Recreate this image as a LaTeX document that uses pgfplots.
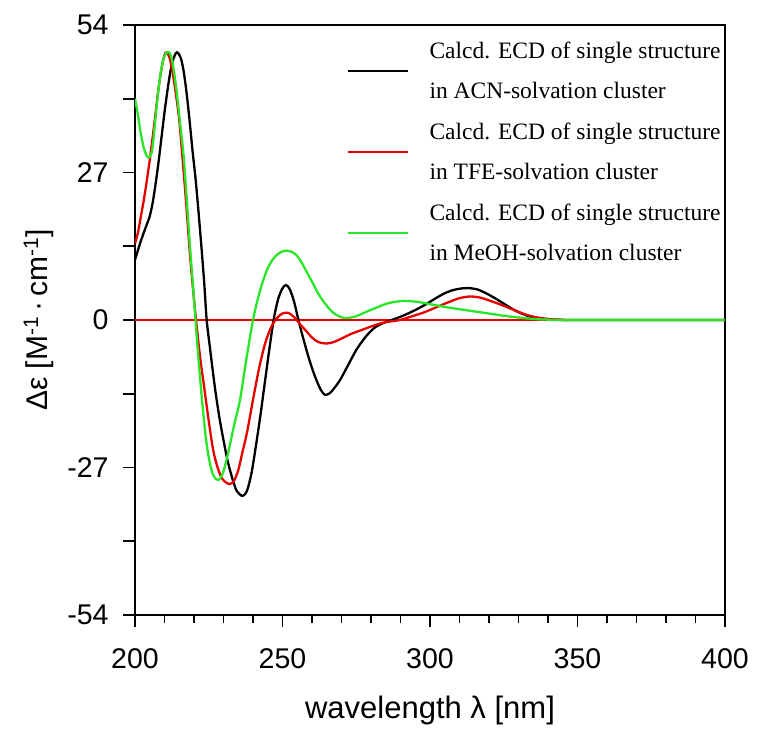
\documentclass[border=0pt]{standalone}
\usepackage{pgfplots}
\pgfplotsset{compat=1.18}
\usepackage{fontspec}
\setmainfont{Liberation Sans}
\newfontfamily\seriffam{Liberation Serif}
\definecolor{cgreen}{RGB}{40,230,40}
\definecolor{cred}{RGB}{230,0,0}
\newcommand\legfont{\fontsize{23.5}{40.5}\selectfont\seriffam}
\begin{document}
\begin{tikzpicture}
\begin{axis}[
  at={(0,0)}, anchor=south west,
  width=590pt, height=590pt, scale only axis,
  xmin=200, xmax=400, ymin=-54, ymax=54,
  axis line style={line width=1.8pt},
  tick style={line width=1.6pt, black},
  tick align=outside,
  xtick pos=bottom, ytick pos=left,
  xtick={200,250,300,350,400},
  xticklabels={200,250,300,350,400},
  minor x tick num=4,
  major tick length=12pt, minor tick length=8pt,
  ytick={-54,-27,0,27,54},
  yticklabels={-54,-27,0,27,54},
  extra y ticks={-40.5,-13.5,13.5,40.5},
  extra y tick labels={},
  extra y tick style={tick style={line width=1.6pt, black}},
  ticklabel style={font=\fontsize{28.5}{32}\selectfont},
  xticklabel style={yshift=-18pt},
  yticklabel style={xshift=-11pt},
  xlabel={wavelength λ [nm]},
  ylabel={Δε [M\textsuperscript{-1}\,·\,cm\textsuperscript{-1}]},
  every axis x label/.style={at={(axis description cs:0.5,-0.175)}, anchor=base, font=\fontsize{31}{35}\selectfont},
  every axis y label/.style={at={(axis description cs:-0.149,0.5)}, rotate=90, anchor=base, font=\fontsize{30}{34}\selectfont},
  legend cell align=left,
  legend style={at={(rel axis cs:0.359,0.972)}, anchor=north west, draw=none, fill=none,
    font=\legfont, inner sep=0pt, row sep=22.5pt, column sep=0pt,
    nodes={align=left, inner xsep=0pt, inner ysep=0pt},
    /tikz/every odd column/.append style={column sep=20pt}},
  legend image code/.code={\draw[#1, line width=2.5pt] (0pt,0pt) -- (60pt,0pt);},
  clip=true,
]
\addplot[cred, line width=1.3pt, forget plot] coordinates {(200,0)(400,0)};
\addplot[black, line width=2.3pt, smooth] coordinates {
(200,11)(202,14.5)(204,17.5)(205,19)(206,21.5)(207,25)(208,29)(209,33.5)(210,38)(211,42)(212,45.5)(213,47.8)(214.2,49)(215.5,48)(216.5,45.5)(217.5,41.5)(218.5,36.5)(219.5,31)(220.5,26)(221.5,20)(222.5,13.5)(223.5,6.5)(224.3,0)(225.5,-5.5)(227,-12)(228.5,-17.5)(230,-22)(231.5,-26)(233,-29)(234.5,-31.3)(236.5,-32.2)(238,-31.2)(239.5,-28)(241,-23)(242.5,-17.5)(244,-11.5)(245.5,-5.5)(247,0)(248.5,3.8)(250,5.8)(251.2,6.4)(252.5,5.6)(254,3.2)(255.4,0)(257,-3.3)(258.5,-6.2)(260,-8.8)(261.5,-11)(263,-12.8)(264.4,-13.7)(266,-13.4)(267.5,-12.5)(269.5,-11)(272,-8.5)(275,-5.5)(278,-3.2)(281,-1.5)(284,-0.6)(287,0)(290,0.6)(293,1.3)(296,2.1)(299,3)(302,4)(305,4.9)(308,5.5)(311,5.8)(313,5.85)(316,5.6)(319,4.9)(322,4)(325,3)(328,2)(331,1.2)(334,0.6)(337,0.3)(340,0.12)(344,0.03)(350,0)(400,0)};
\addlegendentry{Calcd. ECD of single structure\\in ACN-solvation cluster}
\addplot[cred, line width=2.3pt, smooth] coordinates {
(200,14)(201,16)(202,19)(203,22)(204,25.5)(205,29.3)(206,33.5)(207,38)(208,42.5)(209,46)(210,48.5)(210.8,49)(211.7,48)(212.7,45.5)(213.7,42)(215,36.6)(216.2,29)(217.4,21)(218.6,12.2)(219.7,5.5)(220.7,0)(222,-6.5)(223.5,-12.5)(225,-18.5)(226.5,-23.8)(228,-27)(229.5,-29)(231,-29.8)(232.2,-30)(233.5,-29.5)(235,-27.5)(236.5,-24)(238,-20.5)(240,-14.6)(242,-9)(244,-4.5)(246,-1.5)(248,0.3)(250,1.2)(252,1.3)(254,0.5)(256,-0.8)(258,-2)(260,-3.2)(262,-4)(264.7,-4.3)(267,-4.1)(270,-3.4)(273,-2.6)(277,-1.8)(281,-1)(285,-0.4)(289.8,0)(294,0.7)(298,1.4)(302,2.3)(306,3.2)(310,4)(313.6,4.3)(317,4.1)(321,3.4)(325,2.6)(329,1.7)(333,0.9)(337,0.4)(341,0.15)(345,0.04)(350,0)(400,0)};
\addlegendentry{Calcd. ECD of single structure\\in TFE-solvation cluster}
\addplot[cgreen, line width=2.3pt, smooth] coordinates {
(200,40.5)(201,37.5)(202,34)(203,31.5)(204,30)(204.9,29.8)(205.8,31)(206.6,35)(207.5,40)(208.5,44.5)(209.5,47.5)(210.5,48.8)(211.6,49)(212.6,47.5)(213.6,44)(214.6,39.5)(215.5,35)(216.4,30.5)(217.5,22.5)(218.7,13)(219.7,6)(220.5,0)(221.5,-7)(222.7,-14.5)(224,-21.5)(225.3,-26)(226.6,-28.5)(228.2,-29.3)(229.8,-28)(231.5,-24.5)(233.5,-19.5)(235.6,-14.6)(237.5,-8)(239.5,-1.5)(241,2.5)(243,6.5)(245,9.5)(247,11.3)(249,12.3)(251,12.7)(252.5,12.6)(254.5,12)(256.5,10.5)(258.5,8.5)(260.5,6.5)(262.5,4.5)(265,2.6)(267.5,1.2)(270,0.5)(272,0.35)(275,0.7)(278,1.4)(282,2.3)(286,3.1)(291,3.5)(296,3.3)(301,2.8)(306,2.3)(311,1.9)(316,1.5)(321,1.1)(326,0.7)(331,0.4)(336,0.15)(341,0.05)(346,0)(400,0)};
\addlegendentry{Calcd. ECD of single structure\\in MeOH-solvation cluster}
\end{axis}
\path[use as bounding box] (-135pt,-114pt) rectangle (622pt,615pt);
\end{tikzpicture}
\end{document}
